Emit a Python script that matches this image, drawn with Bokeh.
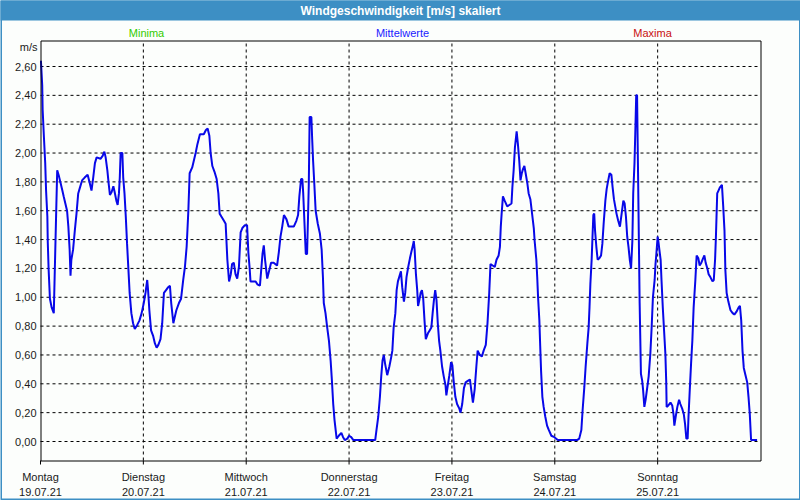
from bokeh.plotting import figure
from bokeh.models import Range1d
from bokeh.core.properties import value
from bokeh.embed import file_html
from bokeh.resources import INLINE

# ---- data (hours since Monday 19.07.21 00:00, wind speed m/s) ----
hours_mon = [0.1,0.4,0.5,0.8,1.1,1.3,1.6,1.7,1.9,2.2,2.6,3.1,3.3,3.7,3.9,4.3,4.7,5.1,5.4,5.8,6.2,6.5,6.8,7.0,7.2,7.6,8.0,8.4,8.8,9.2,9.7,10.3,11.0,11.5,11.9,12.3,12.7,13.1,14.0,14.5,14.9,15.2,15.6,15.9,16.2,16.6,17.0,17.3,17.7,18.0,18.3,18.5,18.7,19.1,19.3,19.6,19.9,20.2,20.5,20.8,21.2,21.6,22.0,22.6,23.1,23.6]
speed_mon = [2.64,2.47,2.30,2.11,1.93,1.74,1.56,1.38,1.19,0.99,0.93,0.89,1.14,1.64,1.88,1.84,1.79,1.74,1.70,1.65,1.60,1.49,1.33,1.15,1.26,1.33,1.46,1.58,1.72,1.76,1.81,1.83,1.85,1.79,1.74,1.83,1.93,1.97,1.96,1.98,2.01,1.97,1.88,1.79,1.71,1.73,1.77,1.73,1.67,1.64,1.72,1.83,2.00,2.00,1.83,1.72,1.56,1.37,1.20,1.03,0.89,0.82,0.78,0.81,0.84,0.89]

hours_tue = [24.1,24.5,24.9,25.1,25.4,25.8,26.3,26.7,27.1,27.5,28.0,28.4,28.8,29.3,29.8,30.2,30.5,31.0,31.3,31.7,32.3,32.8,33.3,33.7,34.1,34.5,34.8,35.4,35.8,36.2,36.6,37.2,38.1,38.6,39.0,39.4,39.7,40.1,40.6,41.1,41.5,41.8,42.2,42.8,43.2,43.6,44.0,44.4,44.7,45.1,45.5,45.9,46.3,46.7,47.1,47.7]
speed_tue = [0.96,1.03,1.12,1.05,0.91,0.77,0.73,0.68,0.65,0.67,0.71,0.82,1.03,1.05,1.07,1.08,0.96,0.82,0.86,0.91,0.96,0.99,1.12,1.21,1.35,1.60,1.86,1.90,1.95,2.00,2.06,2.13,2.13,2.16,2.17,2.12,2.00,1.91,1.87,1.82,1.72,1.58,1.56,1.53,1.51,1.26,1.11,1.16,1.23,1.24,1.16,1.13,1.21,1.45,1.48,1.50]

hours_wed = [48.2,48.5,48.8,49.0,50.2,50.6,51.2,51.5,51.8,52.1,52.4,52.9,53.4,53.8,54.4,55.2,55.6,56.0,56.4,56.8,57.4,57.9,59.1,59.7,60.1,60.4,60.8,61.1,61.3,61.6,61.9,62.2,62.4,62.6,62.8,63.2,63.4,63.6,63.9,64.2,64.7,65.2,65.6,65.9,66.1,66.5,66.9,67.3,67.7,68.0,68.3,68.6,69.1,69.6,70.2,70.6,71.0,71.6]
speed_wed = [1.50,1.31,1.20,1.11,1.11,1.09,1.08,1.19,1.30,1.36,1.26,1.13,1.19,1.24,1.24,1.22,1.31,1.42,1.49,1.57,1.54,1.49,1.49,1.53,1.57,1.70,1.82,1.82,1.72,1.51,1.30,1.30,1.53,1.78,2.25,2.25,2.09,1.95,1.78,1.60,1.51,1.44,1.33,1.14,0.96,0.89,0.79,0.70,0.56,0.42,0.26,0.15,0.02,0.04,0.06,0.03,0.01,0.02]

hours_thu = [72.0,72.5,73.0,78.1,78.4,78.8,79.2,79.5,79.8,80.1,80.4,80.9,81.4,81.8,82.1,82.4,82.8,83.1,83.4,83.8,84.1,84.4,84.8,85.1,85.4,85.8,86.2,86.5,86.9,87.1,87.3,87.6,87.9,88.1,88.4,88.7,89.0,89.3,89.6,89.9,90.4,90.8,91.2,91.5,91.8,92.1,92.4,92.7,93.0,93.3,93.7,94.1,94.5,94.7,95.0,95.4,95.8]
speed_thu = [0.04,0.03,0.01,0.01,0.08,0.17,0.31,0.45,0.56,0.60,0.54,0.46,0.52,0.58,0.63,0.79,0.89,1.05,1.11,1.15,1.18,1.07,0.97,1.03,1.14,1.21,1.27,1.31,1.36,1.39,1.33,1.16,1.05,0.94,0.98,1.03,1.05,0.99,0.84,0.71,0.75,0.77,0.79,0.89,0.98,1.05,0.98,0.82,0.70,0.63,0.52,0.45,0.39,0.32,0.38,0.46,0.55]

hours_fri = [96.1,96.4,96.8,97.2,97.7,98.0,98.4,98.8,99.2,99.7,100.2,100.5,100.9,101.3,101.7,102.0,102.5,103.0,103.4,103.9,104.3,104.7,105.0,105.5,106.0,106.4,106.9,107.2,107.4,107.6,107.9,108.3,108.9,109.4,109.9,110.1,110.4,110.7,111.1,111.4,111.7,112.0,112.3,112.6,112.9,113.2,113.6,113.9,114.3,114.7,115.1,115.3,115.7,115.9,116.1,116.4,116.6,116.8,117.1,117.4,117.8,118.2,118.6,119.2,119.9]
speed_fri = [0.53,0.42,0.31,0.26,0.23,0.20,0.26,0.37,0.41,0.42,0.43,0.36,0.27,0.36,0.52,0.63,0.60,0.59,0.63,0.67,0.82,1.03,1.23,1.22,1.21,1.26,1.29,1.35,1.49,1.58,1.70,1.67,1.63,1.64,1.65,1.76,1.88,2.04,2.15,2.06,1.95,1.81,1.86,1.89,1.91,1.86,1.79,1.72,1.68,1.58,1.48,1.39,1.26,1.14,1.00,0.84,0.66,0.49,0.31,0.24,0.17,0.11,0.08,0.04,0.03]

hours_sat = [120.7,125.2,125.7,126.2,126.5,126.9,127.2,127.6,127.9,128.1,128.3,128.6,128.8,129.0,129.2,129.4,129.7,130.0,130.4,130.8,131.1,131.4,131.8,132.1,132.4,132.8,133.2,133.5,133.8,134.1,134.4,134.8,135.2,135.6,136.0,136.3,136.6,136.9,137.2,137.5,137.8,138.1,138.3,138.6,138.8,139.0,139.2,139.4,139.6,139.8,140.1,140.4,140.6,140.9,141.2,141.6,141.9,142.3,142.6,142.9,143.3,143.5,143.7]
speed_sat = [0.01,0.01,0.02,0.08,0.22,0.38,0.52,0.68,0.79,0.93,1.09,1.26,1.42,1.57,1.58,1.46,1.35,1.26,1.27,1.29,1.37,1.51,1.67,1.75,1.80,1.86,1.85,1.76,1.68,1.63,1.58,1.53,1.49,1.58,1.67,1.65,1.56,1.42,1.35,1.26,1.20,1.39,1.72,1.93,2.16,2.40,2.40,1.93,1.44,0.96,0.47,0.42,0.36,0.24,0.29,0.38,0.45,0.61,0.79,1.00,1.12,1.23,1.30]

hours_sun = [144.0,144.2,144.4,144.7,144.9,145.2,145.5,145.8,146.0,146.1,146.5,147.0,147.4,147.7,147.9,148.2,148.6,149.0,149.3,149.7,150.1,150.4,150.7,151.0,151.2,151.5,151.8,152.1,152.4,152.8,153.1,153.5,153.8,154.2,154.6,154.9,155.2,155.6,155.9,156.3,156.8,157.1,157.4,157.6,157.9,158.2,158.5,159.0,159.3,159.6,159.8,160.1,160.5,161.0,161.5,161.9,162.4,162.9,163.2,163.5,163.8,164.1,164.5,164.9,165.2,165.5,165.8,167.2]
speed_sun = [1.42,1.38,1.33,1.26,1.12,0.93,0.77,0.61,0.42,0.24,0.25,0.27,0.25,0.19,0.11,0.17,0.24,0.29,0.26,0.23,0.19,0.12,0.02,0.02,0.17,0.36,0.54,0.70,0.93,1.12,1.29,1.27,1.22,1.24,1.27,1.29,1.24,1.20,1.16,1.14,1.11,1.12,1.26,1.42,1.72,1.74,1.76,1.78,1.63,1.46,1.19,1.03,0.97,0.91,0.89,0.88,0.90,0.93,0.94,0.84,0.63,0.51,0.46,0.41,0.31,0.19,0.01,0.01]

day_ticks = [0, 24, 48, 72, 96, 120, 144]
day_names = ["Montag", "Dienstag", "Mittwoch", "Donnerstag", "Freitag", "Samstag", "Sonntag"]
day_dates = ["19.07.21", "20.07.21", "21.07.21", "22.07.21", "23.07.21", "24.07.21", "25.07.21"]

y_ticks = [0.0, 0.2, 0.4, 0.6, 0.8, 1.0, 1.2, 1.4, 1.6, 1.8, 2.0, 2.2, 2.4, 2.6]
y_labels = ["0,00", "0,20", "0,40", "0,60", "0,80", "1,00", "1,20", "1,40", "1,60", "1,80", "2,00", "2,20", "2,40", "2,60"]

title_text = "Windgeschwindigkeit [m/s] skaliert"
unit_text = "m/s"
legend_texts = ["Minima", "Mittelwerte", "Maxima"]
legend_colors = ["#33cc00", "#1a1aff", "#c81010"]

hours = hours_mon + hours_tue + hours_wed + hours_thu + hours_fri + hours_sat + hours_sun
speed = speed_mon + speed_tue + speed_wed + speed_thu + speed_fri + speed_sat + speed_sun

# ---- layout (canvas pixels) ----
FONT = "Liberation Sans"
BG = "#fcfefc"
W, H = 800, 500
X0_PX, X1_PX = 40, 760        # plot area left/right (0 h .. 168 h)
Y0_PX = 441                   # pixel row of value 0
PX_PER_H = (X1_PX - X0_PX) / 168.0
PX_PER_V = 144.23
FRAME_TOP_PX, FRAME_BOT_PX = 40, 460


def xd(px):
    return (px - X0_PX) / PX_PER_H


def yd(py):
    return (Y0_PX - py) / PX_PER_V


p = figure(width=W, height=H, x_range=Range1d(xd(0), xd(W)), y_range=Range1d(yd(H), yd(0)),
           output_backend="svg", toolbar_location=None,
           x_axis_location=None, y_axis_location=None,
           min_border_left=0, min_border_right=0, min_border_top=0, min_border_bottom=0)
p.background_fill_color = BG
p.border_fill_color = BG
p.outline_line_color = None
p.grid.visible = False

f_left, f_right = 0, 168
f_bot, f_top = yd(FRAME_BOT_PX), yd(FRAME_TOP_PX)

# dashed grid
p.segment(x0=[f_left] * len(y_ticks), x1=[f_right] * len(y_ticks), y0=y_ticks, y1=y_ticks,
          line_color="black", line_dash="3 3", line_width=1)
vt = day_ticks[1:]
p.segment(x0=vt, x1=vt, y0=[f_bot] * len(vt), y1=[f_top] * len(vt),
          line_color="black", line_dash="3 3", line_width=1)

# x tick marks
p.segment(x0=day_ticks, x1=day_ticks, y0=[f_bot] * len(day_ticks), y1=[yd(FRAME_BOT_PX + 4)] * len(day_ticks),
          line_color="black", line_width=1)

# series
p.line(hours, speed, line_color="#0808e8", line_width=2)

# frame
p.quad(left=[xd(X0_PX + 0.5)], right=[xd(X1_PX + 0.5)], bottom=[yd(FRAME_BOT_PX + 0.5)], top=[yd(FRAME_TOP_PX + 0.5)],
       fill_color=None, line_color="black", line_width=1)

# y tick labels
p.text(x=[xd(36)] * len(y_ticks), y=y_ticks, text=y_labels,
       text_font=value(FONT), text_font_size=value("11px"), text_color="#1a1a1a",
       text_align="right", text_baseline="middle")

# x tick labels (two lines)
p.text(x=day_ticks, y=[yd(476)] * len(day_ticks), text=day_names,
       text_font=value(FONT), text_font_size=value("11px"), text_color="#1a1a1a",
       text_align="center", text_baseline="middle")
p.text(x=day_ticks, y=[yd(491)] * len(day_ticks), text=day_dates,
       text_font=value(FONT), text_font_size=value("11px"), text_color="#1a1a1a",
       text_align="center", text_baseline="middle")

# unit label
p.text(x=[xd(37)], y=[yd(46)], text=[unit_text],
       text_font=value(FONT), text_font_size=value("11px"), text_color="#1a1a1a",
       text_align="right", text_baseline="middle")

# legend texts
p.text(x=[xd(146), xd(402), xd(652)], y=[yd(32)] * 3, text=legend_texts,
       text_font=value(FONT), text_font_size=value("11px"), text_color=legend_colors,
       text_align="center", text_baseline="middle")

# title bar
p.quad(left=[xd(-2)], right=[xd(W + 2)], bottom=[yd(20)], top=[yd(-2)],
       fill_color="#3d8fc4", line_color=None)
p.text(x=[xd(W / 2)], y=[yd(10)], text=[title_text],
       text_font=value(FONT), text_font_size=value("12px"), text_font_style="bold",
       text_color="white", text_align="center", text_baseline="middle")

# window border
p.quad(left=[xd(0.5)], right=[xd(W - 0.5)], bottom=[yd(H - 1)], top=[yd(0)],
       fill_color=None, line_color="#3d8fc4", line_width=2)

open("out.html", "w").write(file_html(p, INLINE))
